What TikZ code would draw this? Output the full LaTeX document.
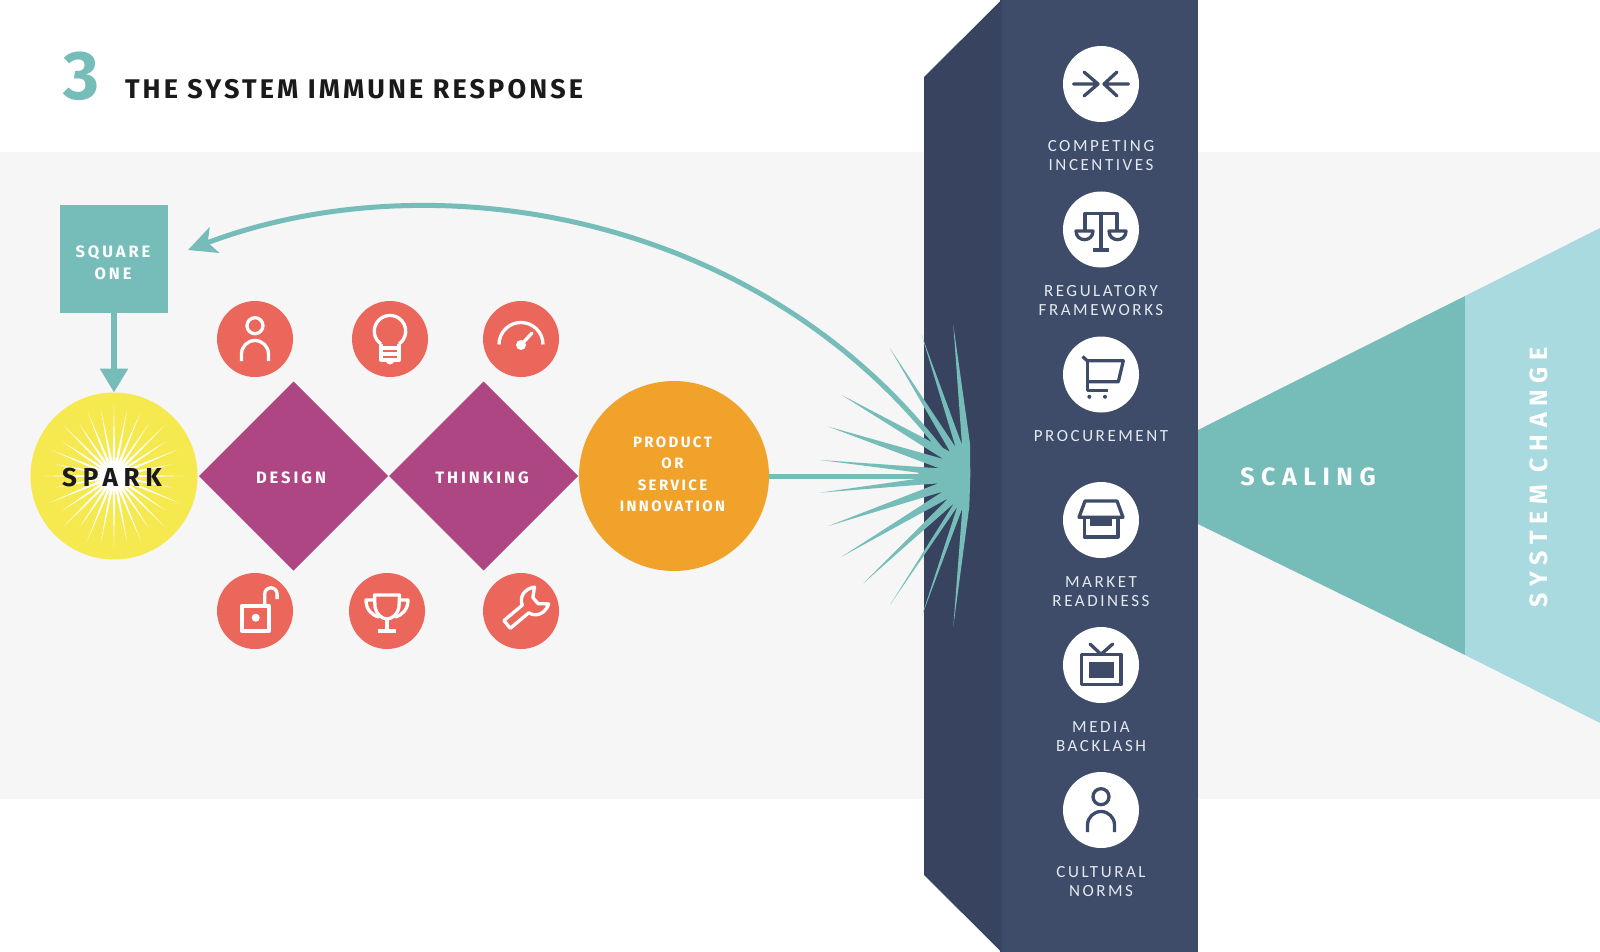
\documentclass[tikz,border=0pt]{standalone}
\usepackage{fontspec}
\usetikzlibrary{arrows.meta,shapes.geometric}
\setmainfont{Fira Sans}
\newfontfamily\ftitle[LetterSpace=11.5]{Fira Sans}
\newfontfamily\fboxed[LetterSpace=16]{Fira Sans}
\newfontfamily\fdia[LetterSpace=18]{Fira Sans}
\newfontfamily\fspark[LetterSpace=22]{Fira Sans}
\newfontfamily\fscale[LetterSpace=26]{Fira Sans}
\newfontfamily\fsys[LetterSpace=27]{Fira Sans}
\newfontfamily\flabel[LetterSpace=15]{Carlito}
\definecolor{teal}{HTML}{76BDB9}
\definecolor{lteal}{HTML}{A9DADF}
\definecolor{band}{HTML}{F6F6F6}
\definecolor{front}{HTML}{3E4C69}
\definecolor{side}{HTML}{38435F}
\definecolor{mag}{HTML}{AD4682}
\definecolor{coral}{HTML}{EC675B}
\definecolor{yel}{HTML}{F6E94F}
\definecolor{ora}{HTML}{F0A22B}
\definecolor{ink}{HTML}{1A1A1A}
\definecolor{pale}{HTML}{E4E9F0}
\newcommand{\icperson}{%
  \draw (0,-13.3) circle (8);
  \draw[line cap=butt] (-13.5,22) -- (-13.5,15) arc[start angle=180,end angle=360,radius=13.5] -- (13.5,22);}
\tikzset{
  x=1pt,y=-1pt,
  allnodes/.style={inner sep=0,outer sep=0,align=center},
  dot/.style={circle,minimum size=76,allnodes},
  coraldot/.style={dot,fill=coral},
  whitedot/.style={dot,fill=white},
  boxtext/.style={allnodes,text=white,font=\fboxed\bfseries\fontsize{15}{21.5}\selectfont},
  diatext/.style={allnodes,text=white,font=\fdia\bfseries\fontsize{16.5}{22}\selectfont},
  wall/.style={allnodes,text=pale,font=\flabel\fontsize{17}{18.8}\selectfont},
  conn/.style={draw=teal,line width=5},
  wicon/.style={color=white,line width=3.3,line join=round},
  nicon/.style={color=front,line width=3.3,line join=round},
}
\begin{document}
\begin{tikzpicture}
\useasboundingbox (0,0) rectangle (1600,952);
\fill[white] (0,0) rectangle (1600,952);
\fill[band] (0,152) rectangle (1600,799);
% title
\node[allnodes,text=teal,font=\bfseries\fontsize{69}{69}\selectfont] (three) at (81,76) {3};
\node[allnodes,anchor=west,text=ink,font=\ftitle\bfseries\fontsize{27}{30}\selectfont] (title) at (125,89) {THE SYSTEM IMMUNE RESPONSE};
% scaling cone
\fill[teal] (1198,430) -- (1465,296) -- (1465,655) -- (1198,524) -- cycle;
\fill[lteal] (1465,296) -- (1600,228) -- (1600,723) -- (1465,655) -- cycle;
% wall
\fill[front] (1000,0) rectangle (1198,952);
\fill[side] (924,77) -- (1001.5,0) -- (1001.5,952) -- (924,875) -- cycle;
% left nodes
\node[fill=teal,minimum size=108,allnodes] (square) at (114,259) {};
\node[diatext] (squaretext) at (113,263) {SQUARE\\ONE};
\node[circle,fill=yel,minimum size=167,allnodes] (spark) at (114,476) {};
\begin{scope}[shift={(spark.center)}]
  \fill[white] (0,0) circle (15);
  \foreach \a/\r in {0/70,11.25/60,22.5/70,33.75/62,45/70,56.25/62,67.5/70,78.75/68,90/70,101.25/68,112.5/70,123.75/62,135/70,146.25/62,157.5/70,168.75/60,180/70,191.25/60,202.5/68,213.75/62,225/70,236.25/62,247.5/68,258.75/68,270/70,281.25/68,292.5/68,303.75/62,315/70,326.25/62,337.5/68,348.75/60}
    \fill[white] (\a-5.6:14) -- (\a:\r) -- (\a+5.6:14) -- cycle;
\end{scope}
\node[allnodes,text=ink,font=\fspark\bfseries\fontsize{26}{26}\selectfont] (sparktext) at (112,477) {SPARK};
\node[diamond,aspect=1,fill=mag,minimum width=189,minimum height=189,allnodes] (design) at (293.5,476) {};
\node[diatext] (designtext) at (291,477.5) {DESIGN};
\node[diamond,aspect=1,fill=mag,minimum width=189,minimum height=189,allnodes] (thinking) at (483.5,476) {};
\node[diatext] (thinkingtext) at (482,477.5) {THINKING};
\node[circle,fill=ora,minimum size=190,allnodes] (product) at (674,476) {};
\node[boxtext] (producttext) at (672.5,474.5) {PRODUCT\\OR\\SERVICE\\INNOVATION};
% connectors
\coordinate (burst) at (950,476);
\coordinate (burstup) at (945,455);
\coordinate (sqin) at (188,250);
\draw[conn,line width=5.5,-{Triangle[length=24,width=27]}] (square) -- (spark);
\draw[conn] (product) -- (burst);
\draw[draw=teal,line width=5,-{Stealth[length=28,width=27,inset=7]}] (burstup) .. controls (760,212) and (432,158) .. (sqin);
% burst
\begin{scope}[shift={(780,310)},x=0.3333pt,y=-0.3333pt]
\fill[teal] (570,400) -- (520,45) -- (546,405) -- (425,75) -- (527,412) -- (330,115) -- (510,425) -- (185,255) -- (490,447) -- (145,350) -- (478,475) -- (120,450) -- (415,488) -- (415,506) -- (120,548) -- (475,520) -- (145,648) -- (488,545) -- (185,740) -- (505,565) -- (250,820) -- (522,580) -- (330,885) -- (532,590) -- (425,920) -- (547,595) -- (520,950) -- (568,590) -- (571,495) -- cycle;
\end{scope}
% scaling labels
\node[allnodes,text=white,font=\fscale\bfseries\fontsize{25}{25}\selectfont] (scaling) at (1308,477) {SCALING};
\node[allnodes,rotate=90,text=white,font=\fsys\bfseries\fontsize{25}{25}\selectfont] (syschange) at (1539,477) {SYSTEM CHANGE};
% coral icons
\node[coraldot] (c1) at (255,339) {};
\node[coraldot] (c2) at (390,339) {};
\node[coraldot] (c3) at (521,339) {};
\node[coraldot] (c4) at (255,611) {};
\node[coraldot] (c5) at (387,611) {};
\node[coraldot] (c6) at (521,611) {};
\begin{scope}[shift={(c1.center)},wicon] \icperson \end{scope}
\begin{scope}[shift={(c2.center)},wicon]
  \draw (-9,5) arc[start angle=125,end angle=415,radius=15.7];
  \draw (-9,5) -- (-9,21) -- (9,21) -- (9,5);
  \draw (-9,9) -- (9,9) (-9,15) -- (9,15);
  \fill (-4.5,21) -- (4.5,21) arc[start angle=0,end angle=180,radius=4.5] -- cycle;
\end{scope}
\begin{scope}[shift={(c3.center)},wicon]
  \draw (-22,5.5) arc[start angle=180,end angle=360,radius=22];
  \fill (0,6) circle (5);
  \draw[line cap=round] (0,6) -- (11,-6);
\end{scope}
\begin{scope}[shift={(c4.center)},wicon]
  \draw (-13,-5) rectangle (14,20);
  \fill (0.7,6.7) circle (4);
  \draw (9.7,-5) -- (9.7,-17) arc[start angle=180,end angle=360,radius=6.2] -- (22.1,-12);
\end{scope}
\begin{scope}[shift={(c5.center)},wicon]
  \draw (-12.5,-16) -- (12.5,-16) -- (12,-4) .. controls (11,3) and (5,8) .. (0,8) .. controls (-5,8) and (-11,3) .. (-12,-4) -- cycle;
  \draw (-12,-11) -- (-21,-11) .. controls (-21,-2) and (-16,4) .. (-8,6);
  \draw (12,-11) -- (21,-11) .. controls (21,-2) and (16,4) .. (8,6);
  \draw (0,8) -- (0,20) (-9,20) -- (9,20);
\end{scope}
\begin{scope}[shift={(c6.center)},wicon]
  \begin{scope}[shift={(4.5,-2)},rotate=40]
  \draw (-24,-5) -- (0,-5) .. controls (3,-14) and (13,-16) .. (21,-11) -- (13,-4) -- (13,4) -- (21,11) .. controls (13,16) and (3,14) .. (0,5) -- (-24,5) -- cycle;
  \end{scope}
\end{scope}
% wall icons
\node[whitedot] (w1) at (1101,84) {};
\node[whitedot] (w2) at (1101,229.5) {};
\node[whitedot] (w3) at (1101,374.5) {};
\node[whitedot] (w4) at (1101,520) {};
\node[whitedot] (w5) at (1101,665) {};
\node[whitedot] (w6) at (1101,810) {};
\begin{scope}[shift={(w1.center)},nicon,line cap=round]
  \draw (-27.5,0) -- (-3,0) (-17,-12) -- (-3,0) -- (-17,12);
  \draw (27.5,0) -- (3,0) (16,-12) -- (3,0) -- (16,12);
\end{scope}
\begin{scope}[shift={(w2.center)},nicon]
  \draw (-16,0) -- (-16,-16) -- (16,-16) -- (16,0);
  \draw (0,-16) -- (0,20.5) (-8,20.5) -- (8,20.5);
  \draw (-25,1.5) -- (-8,1.5) .. controls (-8,13) and (-25,13) .. (-25,1.5) -- cycle;
  \draw (25,1.5) -- (8,1.5) .. controls (8,13) and (25,13) .. (25,1.5) -- cycle;
\end{scope}
\begin{scope}[shift={(w3.center)},nicon]
  \draw (-18.5,-18) -- (-13.7,-13.7) -- (22.3,-13.7) -- (17.3,7.3) -- (-13.7,7.3);
  \draw (-13.7,-13.7) -- (-13.7,15.7) -- (7.3,15.7);
  \fill (-11.7,22.3) circle (2) (4,22.3) circle (2);
\end{scope}
\begin{scope}[shift={(w4.center)},nicon]
  \draw (-16,-19) -- (16,-19) -- (22,-2.7) -- (-22,-2.7) -- cycle;
  \draw (-16.5,-2.7) -- (-16.5,17) -- (17,17) -- (17,-2.7);
  \fill (-11,-2.7) rectangle (11,6);
\end{scope}
\begin{scope}[shift={(w5.center)},nicon]
  \draw (-19.3,-10.7) rectangle (20,19.5);
  \fill (-12,-3.5) rectangle (12.5,13);
  \draw[line cap=round] (-11,-21) -- (0,-10.7) -- (11.7,-21);
\end{scope}
\begin{scope}[shift={(w6.center)},nicon] \icperson \end{scope}
% wall labels
\node[wall] (l1) at (1101,155.5) {COMPETING\\INCENTIVES};
\node[wall] (l2) at (1101,300.5) {REGULATORY\\FRAMEWORKS};
\node[wall] (l3) at (1101,436.5) {PROCUREMENT};
\node[wall] (l4) at (1101,591.5) {MARKET\\READINESS};
\node[wall] (l5) at (1101,736.5) {MEDIA\\BACKLASH};
\node[wall] (l6) at (1101,881.5) {CULTURAL\\NORMS};
\end{tikzpicture}
\end{document}
